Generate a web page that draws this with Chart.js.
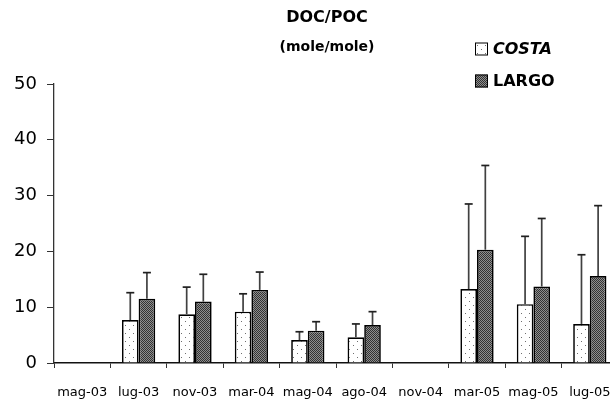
<!DOCTYPE html>
<html>
<head>
<meta charset="utf-8">
<script src="https://cdn.jsdelivr.net/npm/chart.js@4/dist/chart.umd.min.js"></script>
<style>
  html, body { margin: 0; padding: 0; background: #fff; overflow: hidden; }
  #wrap { width: 610px; height: 404px; overflow: hidden; }
</style>
</head>
<body>
<div id="wrap"><canvas id="chart" width="630" height="404"></canvas></div>
<script>
const dates = ['mag-03', 'lug-03', 'nov-03', 'mar-04', 'mag-04', 'ago-04', 'nov-04', 'mar-05', 'mag-05', 'lug-05'];

const costa = [0, 7.7, 8.75, 9.2, 4.1, 4.6, 0, 13.25, 10.55, 7.0];
const costaErr = [0, 4.9, 4.85, 3.2, 1.5, 2.4, 0, 15.25, 12.15, 12.4];

const largo = [0, 11.5, 11.0, 13.1, 5.8, 6.8, 0, 20.3, 13.7, 15.6];
const largoErr = [0, 4.7, 4.9, 3.2, 1.6, 2.4, 0, 15.1, 12.2, 12.6];

const yTicks = [0, 10, 20, 30, 40, 50];

const errors = [costaErr, largoErr];

const makePattern = (size, draw) => {
  const c = document.createElement('canvas');
  c.width = size;
  c.height = size;
  draw(c.getContext('2d'));
  return c.getContext('2d').createPattern(c, 'repeat');
};

// sparse dots on white
const dotted = makePattern(8, (g) => {
  g.fillStyle = '#ffffff';
  g.fillRect(0, 0, 8, 8);
  g.fillStyle = '#6e6e6e';
  g.fillRect(1, 1, 1, 1);
  g.fillRect(5, 5, 1, 1);
});

// dense grey checker
const checker = makePattern(2, (g) => {
  g.fillStyle = '#8e8e8e';
  g.fillRect(0, 0, 2, 2);
  g.fillStyle = '#333333';
  g.fillRect(0, 0, 1, 1);
  g.fillRect(1, 1, 1, 1);
});

const errorBars = {
  id: 'errorBars',
  afterDatasetsDraw: (chart) => {
    const { ctx } = chart;
    const y = chart.scales.y;
    ctx.save();
    chart.data.datasets.forEach((ds, d) => {
      const meta = chart.getDatasetMeta(d);
      meta.data.forEach((bar, i) => {
        const err = errors[d][i];
        if (!err) return;
        const top = y.getPixelForValue(ds.data[i] + err);
        ctx.strokeStyle = '#404040';
        ctx.lineWidth = 1.7;
        ctx.beginPath();
        ctx.moveTo(bar.x, bar.y);
        ctx.lineTo(bar.x, top);
        ctx.stroke();
        ctx.strokeStyle = '#202020';
        ctx.beginPath();
        ctx.moveTo(bar.x - 4, top);
        ctx.lineTo(bar.x + 4, top);
        ctx.stroke();
      });
    });
    ctx.restore();
  }
};

const titleAndLegend = {
  id: 'titleAndLegend',
  afterDraw: (chart) => {
    const { ctx } = chart;
    ctx.save();
    ctx.fillStyle = '#000';
    ctx.textAlign = 'center';
    ctx.textBaseline = 'middle';
    ctx.font = 'bold 16px "DejaVu Sans"';
    ctx.fillText('DOC/POC', 327, 18);
    ctx.font = 'bold 14px "DejaVu Sans"';
    ctx.fillText('(mole/mole)', 327, 47);

    const rows = [49, 81];
    chart.data.datasets.forEach((ds, d) => {
      const cy = rows[d];
      ctx.fillStyle = ds.backgroundColor;
      ctx.fillRect(475, cy - 6.5, 13, 13);
      ctx.strokeStyle = '#000';
      ctx.lineWidth = 1;
      ctx.strokeRect(475.5, cy - 6, 12, 12);
      ctx.fillStyle = '#000';
      ctx.textAlign = 'left';
      ctx.font = (d === 0 ? 'italic ' : '') + 'bold 16px "DejaVu Sans"';
      ctx.fillText(ds.label, 493, cy + 1);
    });
    ctx.restore();
  }
};

new Chart(document.getElementById('chart'), {
  type: 'bar',
  data: {
    labels: dates,
    datasets: [
      {
        label: 'COSTA',
        data: costa,
        backgroundColor: dotted,
        borderColor: '#000',
        borderWidth: 1.7,
        borderSkipped: 'start'
      },
      {
        label: 'LARGO',
        data: largo,
        backgroundColor: checker,
        borderColor: '#000',
        borderWidth: 1.7,
        borderSkipped: 'start'
      }
    ]
  },
  options: {
    responsive: false,
    animation: false,
    devicePixelRatio: 1,
    categoryPercentage: 0.59,
    barPercentage: 1,
    layout: {
      padding: { top: 84, right: 12, bottom: 0, left: 0 }
    },
    scales: {
      x: {
        offset: true,
        grid: {
          offset: true,
          drawOnChartArea: false,
          tickLength: 5,
          color: '#333'
        },
        border: { color: '#111', width: 1.5 },
        ticks: {
          autoSkip: false,
          maxRotation: 0,
          padding: 17,
          color: '#000',
          font: { family: 'DejaVu Sans', size: 13 }
        },
        afterFit: (scale) => { scale.height = 41; }
      },
      y: {
        min: 0,
        max: 50,
        afterBuildTicks: (scale) => {
          scale.ticks = yTicks.map((v) => ({ value: v }));
        },
        grid: {
          drawOnChartArea: false,
          tickLength: 7,
          color: '#333'
        },
        border: { color: '#333', width: 1.3 },
        ticks: {
          padding: 10,
          color: '#000',
          font: { family: 'DejaVu Sans', size: 18 }
        },
        afterFit: (scale) => { scale.width = 54; }
      }
    },
    plugins: {
      legend: { display: false },
      title: { display: false },
      tooltip: { enabled: false }
    }
  },
  plugins: [errorBars, titleAndLegend]
});
</script>
</body>
</html>
